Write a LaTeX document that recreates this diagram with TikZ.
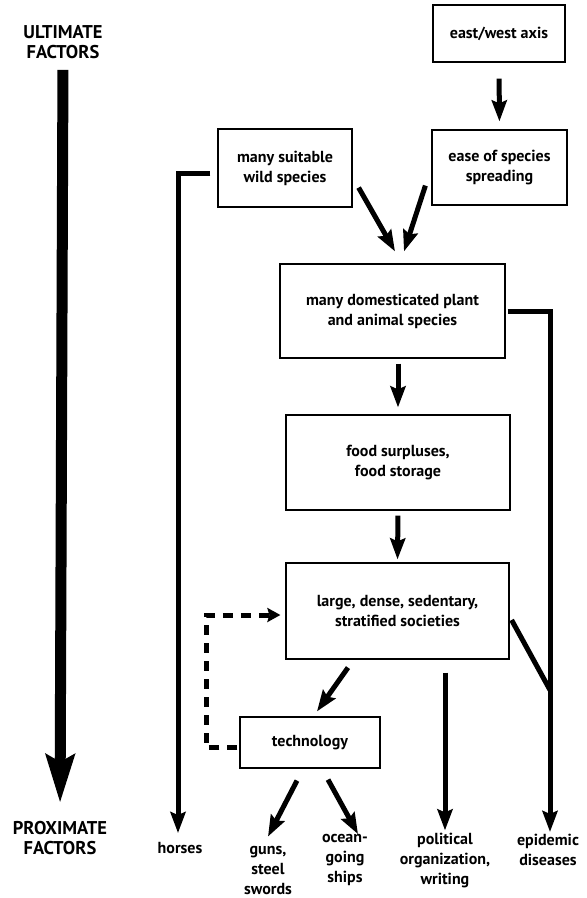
\documentclass[tikz,border=0pt]{standalone}
\usepackage{fontspec}
\setmainfont{PT Sans}
\usetikzlibrary{arrows.meta,positioning,calc}

\begin{document}
\begin{tikzpicture}[x=1pt, y=-1pt,
     font=\fontsize{16}{20}\selectfont\bfseries,
     box/.style = {draw, rectangle, line width=1.2pt, align=center, inner sep=0pt},
     lbl/.style = {align=center, inner sep=0pt},
     caps/.style = {lbl, font=\fontsize{18.5}{20}\selectfont\bfseries},
     arr/.style = {line width=5pt, -{Stealth[length=21pt,width=15pt,inset=3pt]}},
     link/.style = {line width=5pt},
     dasharr/.style = {line width=5pt, dash pattern=on 10pt off 8pt, -{Stealth[length=13pt,width=14pt,inset=2pt]}},
     bigarr/.style = {line width=11pt, -{Stealth[length=48pt,width=28pt,inset=7pt]}},
]
\useasboundingbox (0,0) rectangle (587,898);

% boxes
\node [box, minimum width=132pt, minimum height=57pt] (ew)     at (499,33.5)  {east/west axis};
\node [box, minimum width=135pt, minimum height=75pt] (ease)   at (499.5,167.5) {ease of species\\spreading};
\node [box, minimum width=134pt, minimum height=78pt] (wild)   at (285,168)   {many suitable\\wild species};
\node [box, minimum width=225pt, minimum height=94pt] (domest) at (392.5,311)  {many domesticated plant\\and animal species};
\node [box, minimum width=224pt, minimum height=95pt] (food)   at (398,462.5)  {food surpluses,\\food storage};
\node [box, minimum width=223pt, minimum height=96pt] (soc)    at (397.5,611)  {large, dense, sedentary,\\stratified societies};
\node [box, minimum width=140pt, minimum height=51pt] (tech)   at (310,742.5)  {technology};

% labels
\node [caps] (ult)    at (63,42)   {ULTIMATE\\FACTORS};
\node [caps] (prox)   at (60,838)  {PROXIMATE\\FACTORS};
\node [lbl] (horses) at (180,848) {horses};
\node [lbl] (guns)   at (268,870) {guns,\\steel\\swords};
\node [lbl] (ships)  at (345,860) {ocean-\\going\\ships};
\node [lbl] (polit)  at (445,860) {political\\organization,\\writing};
\node [lbl] (epid)   at (548,850) {epidemic\\diseases};
\coordinate (meet) at (550,690);

% connectors
\draw [bigarr, shorten <=11pt, shorten >=18pt] (ult.south) -- (prox.north);
\draw [arr, shorten <=16pt, shorten >=8pt] (ew.south) -- (ease.north);
\draw [arr] ([shift={(6,-20)}]wild.south east) -- ([shift={(2.5,-12)}]domest.north);
\draw [arr] ([shift={(-6,-20)}]ease.south west) -- ([shift={(11.5,-12)}]domest.north);
\draw [arr, shorten <=5pt, shorten >=7pt] (domest.south -| food.north) -- (food.north);
\draw [arr, shorten <=5pt, shorten >=3pt] (food.south) -- (soc.north);
\draw [arr] ([shift={(-49.5,8)}]soc.south) -- ([shift={(7,-5)}]tech.north);
\draw [arr] ([shift={(-13,12)}]tech.south) -- ([shift={(0,-9)}]guns.north);
\draw [arr] ([shift={(18,11)}]tech.south) -- ([shift={(13,0)}]ships.north);
\draw [arr, shorten <=13pt, shorten >=2pt] (soc.south -| polit.north) -- (polit.north);
\draw [arr] ([shift={(-7,5)}]wild.west) -| ([shift={(-2,-9)}]horses.north);
\draw [arr] ([shift={(2,0)}]domest.east) -| ([shift={(2,-2)}]epid.north);
\draw [link] ([shift={(2,9)}]soc.east) -- (meet);
\draw [dasharr] ([shift={(-2,5)}]tech.west) -| ([shift={(-79,4)}]soc.west) -- ([shift={(-5,4)}]soc.west);
\end{tikzpicture}
\end{document}
